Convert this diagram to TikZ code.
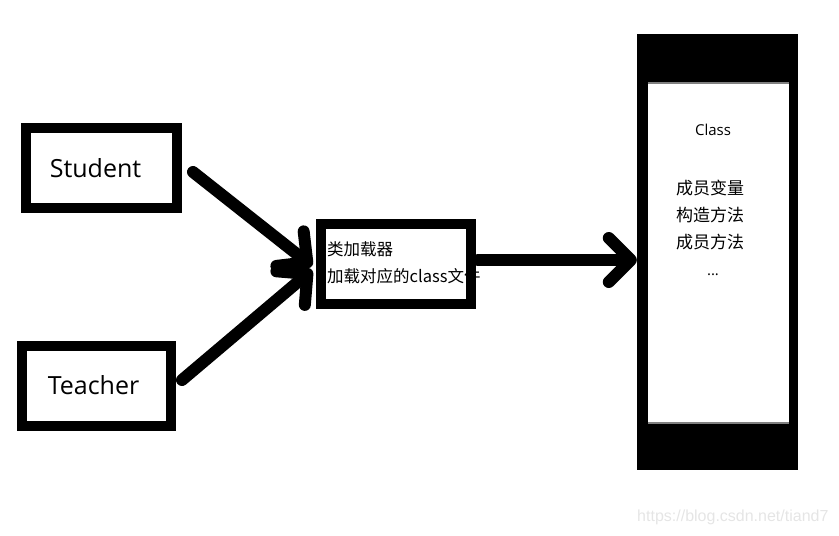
\documentclass[tikz,border=0pt]{standalone}
\usepackage{fontspec}
\setmainfont{Open Sans}
\newfontfamily\cjk{Noto Sans CJK SC}
\newfontfamily\wmfont{Liberation Sans}
\usetikzlibrary{arrows.meta,calc}

\begin{document}
\begin{tikzpicture}[line cap=round, line join=round, x=1pt, y=-1pt,
  box/.style={draw, line width=10pt, line cap=butt, line join=miter, minimum width=#1, minimum height=80pt, inner sep=0pt},
  conn/.style={line width=12pt, -{Straight Barb[length=22pt,width=44pt,round]}}]
  \useasboundingbox (0,0) rectangle (839,536);
  % classes on the left
  \node[box=151pt, font=\fontsize{25}{30}\selectfont] (student) at (101.5,168) {\kern-12pt\raisebox{-5pt}{Student}};
  \node[box=149pt, font=\fontsize{25}{30}\selectfont] (teacher) at (96.5,386) {\kern-6pt\raisebox{3pt}{Teacher}};
  % loader
  \node[box=150pt] (loader) at (396,264) {};
  \node[anchor=west, align=left, inner sep=0pt, font=\cjk\fontsize{16.5}{27}\selectfont] (loadtext) at (327,262.5) {类加载器\\加载对应的class文件};
  % class object
  \node[fill=black, minimum width=161pt, minimum height=436pt, inner sep=0pt] (cls) at (717.5,252) {};
  \node[fill=white, minimum width=141pt, minimum height=340pt, inner sep=0pt] (body) at (718.5,253) {};
  \draw[gray, line width=2pt, line cap=butt] (body.north west) -- (body.north east);
  \draw[gray, line width=2pt, line cap=butt] (body.south west) -- (body.south east);
  \node[font=\fontsize{15}{18}\selectfont] (title) at (713,130) {Class};
  \node[align=center, inner sep=0pt, font=\cjk\fontsize{17}{27}\selectfont] (members) at (710,228) {成员变量\\构造方法\\成员方法\\{\rmfamily\fontsize{15}{27}\selectfont\hspace*{6pt}...}};
  % arrows
  \draw[conn] ($(student.east)+(11,4)$) -- ($(loader.west)+(-4,2)$);
  \draw[conn] ($(teacher.east)+(6,-6)$) -- ($(loader.west)+(-4,6)$);
  \draw[conn] ($(loader.east)+(2,-4)$) -- ($(cls.west)+(0,8)$);
  \node[anchor=east, text=black!10, font=\wmfont\fontsize{16}{16}\selectfont] (mark) at (832,517) {https://blog.csdn.net/tiand7};
\end{tikzpicture}
\end{document}
